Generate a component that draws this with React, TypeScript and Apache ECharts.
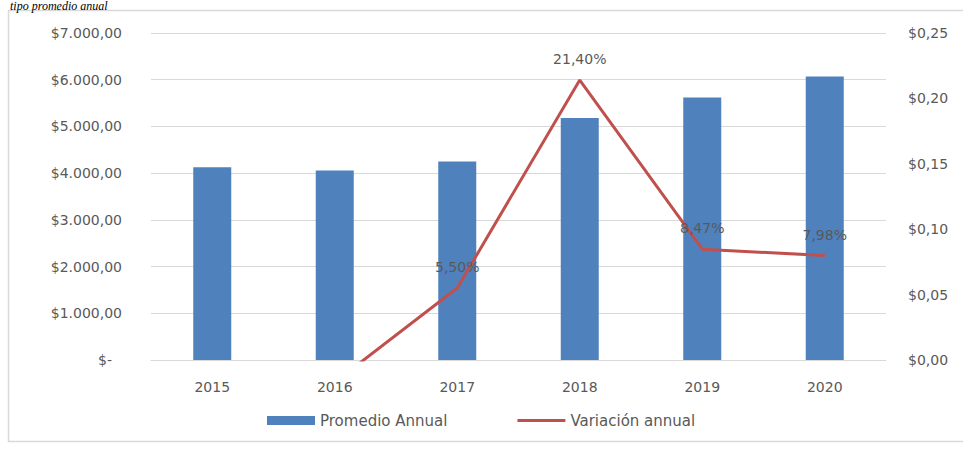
import React, { useEffect, useRef } from "react";
import * as echarts from "echarts";

const years = ["2015", "2016", "2017", "2018", "2019", "2020"];
const promedioAnnual = [4128, 4056, 4250, 5180, 5620, 6070];
const variacionAnnual = [null, -0.017, 0.055, 0.214, 0.0847, 0.0798];
const leftTicks = { min: 0, max: 7000, interval: 1000 };
const rightTicks = { min: 0, max: 0.25, interval: 0.05 };
const captionText = "tipo promedio anual";

const GRAY = "#595959";
const FONT = "DejaVu Sans";

function fmtMoney(v: number): string {
  if (v === 0) return "{z|$-}";
  const s = Math.round(v).toString().replace(/\B(?=(\d{3})+(?!\d))/g, ".");
  return "$" + s + ",00";
}

function fmtRight(v: number): string {
  return "$" + v.toFixed(2).replace(".", ",");
}

function fmtPct(v: number): string {
  return (v * 100).toFixed(2).replace(".", ",") + "%";
}

export default function App() {
  const ref = useRef<HTMLDivElement>(null);
  useEffect(() => {
    if (!ref.current) return;
    const chart = echarts.init(ref.current, null, { renderer: "svg" });
    const lineData = variacionAnnual.map((v) =>
      v === null ? null : { value: v, label: { show: v >= 0 } }
    );
    chart.setOption({
      animation: false,
      backgroundColor: "#ffffff",
      textStyle: { fontFamily: FONT },
      grid: { left: 151, right: 77, top: 33, bottom: 90 },
      graphic: [
        {
          type: "rect",
          silent: true,
          shape: { x: 8.5, y: 10.5, width: 970, height: 431 },
          style: { fill: "none", stroke: "#d9d9d9", lineWidth: 1.5 },
        },
        {
          type: "text",
          silent: true,
          x: 10,
          y: 0,
          style: {
            text: captionText,
            font: "italic 12px 'Liberation Serif'",
            fill: "#000000",
            verticalAlign: "top",
            align: "left",
          },
        },
      ],
      legend: {
        bottom: 17,
        left: 262,
        itemWidth: 48,
        itemHeight: 9,
        itemGap: 70,
        textStyle: { color: GRAY, fontSize: 15, fontFamily: FONT },
        data: [
          { name: "Promedio Annual", icon: "rect" },
          { name: "Variación annual", icon: "path://M0,0L16,0L16,1L0,1Z" },
        ],
      },
      xAxis: {
        type: "category",
        data: years,
        axisLine: { lineStyle: { color: "#d9d9d9", width: 1 } },
        axisTick: { show: false },
        axisLabel: { color: GRAY, fontSize: 14, margin: 20, fontFamily: FONT },
      },
      yAxis: [
        {
          type: "value",
          min: leftTicks.min,
          max: leftTicks.max,
          interval: leftTicks.interval,
          axisLine: { show: false },
          axisTick: { show: false },
          splitLine: { lineStyle: { color: "#d9d9d9", width: 1 } },
          axisLabel: {
            color: GRAY,
            fontSize: 14,
            margin: 29,
            fontFamily: FONT,
            formatter: fmtMoney,
            rich: { z: { color: GRAY, fontSize: 14, fontFamily: FONT, padding: [0, 10, 0, 0] } },
          },
        },
        {
          type: "value",
          min: rightTicks.min,
          max: rightTicks.max,
          interval: rightTicks.interval,
          axisLine: { show: false },
          axisTick: { show: false },
          splitLine: { show: false },
          axisLabel: {
            color: GRAY,
            fontSize: 14,
            margin: 22,
            fontFamily: FONT,
            formatter: fmtRight,
          },
        },
      ],
      series: [
        {
          name: "Promedio Annual",
          type: "bar",
          data: promedioAnnual,
          barWidth: 38,
          itemStyle: { color: "#4f81bd" },
        },
        {
          name: "Variación annual",
          type: "line",
          yAxisIndex: 1,
          data: lineData,
          symbol: "circle",
          symbolSize: 0,
          showSymbol: true,
          clip: true,
          connectNulls: false,
          lineStyle: { color: "#c0504d", width: 3 },
          itemStyle: { color: "#c0504d" },
          label: {
            show: true,
            position: "top",
            distance: 14,
            color: GRAY,
            fontSize: 14,
            fontFamily: FONT,
            formatter: (p: any) => fmtPct(p.value),
          },
        },
      ],
    });
    return () => chart.dispose();
  }, []);
  return (
    <div
      ref={ref}
      style={{ position: "absolute", left: 0, top: 0, width: 963, height: 450 }}
    />
  );
}
